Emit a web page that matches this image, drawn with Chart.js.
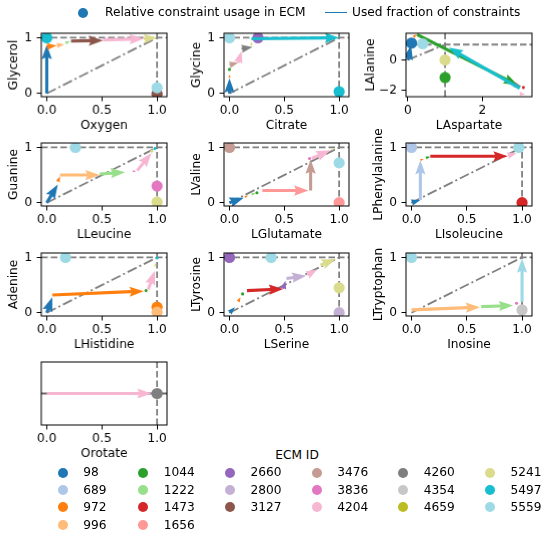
<!DOCTYPE html>
<html>
<head>
<meta charset="utf-8">
<script src="https://cdn.jsdelivr.net/npm/chart.js@4.4.0/dist/chart.umd.min.js"></script>
<style>
  html, body { margin: 0; padding: 0; background: #fff; }
  #fig { position: relative; width: 550px; height: 539px; overflow: hidden; font-family: "DejaVu Sans", sans-serif; font-size: 12.2px; color: #000; }
  #fig canvas { position: absolute; }
  .txt { position: absolute; white-space: nowrap; line-height: 15px; }
  .dot { position: absolute; width: 10px; height: 10px; border-radius: 50%; }
</style>
</head>
<body>
<div id="fig"></div>
<script>
// ---------------- DATA ----------------
const ecmIds = [98, 689, 972, 996, 1044, 1222, 1473, 1656, 2660, 2800, 3127, 3476, 3836, 4204, 4260, 4354, 4659, 5241, 5497, 5559];
const ecmColors = ['#1f77b4','#aec7e8','#ff7f0e','#ffbb78','#2ca02c','#98df8a','#d62728','#ff9896','#9467bd','#c5b0d5','#8c564b','#c49c94','#e377c2','#f7b6d2','#7f7f7f','#c7c7c7','#bcbd22','#dbdb8d','#17becf','#9edae5'];

const panelXLabels = ['Oxygen','Citrate','LAspartate','LLeucine','LGlutamate','LIsoleucine','LHistidine','LSerine','Inosine','Orotate'];
const panelYLabels = ['Glycerol','Glycine','LAlanine','Guanine','LValine','LPhenylalanine','Adenine','LTyrosine','LTryptophan',''];

const unitTickValues = [0, 0.5, 1];
const unitTickLabels = ['0.0', '0.5', '1.0'];
const binaryTickValues = [0, 1];
const binaryTickLabels = ['0', '1'];
const aspartateTickValues = [0, 2];
const aspartateTickLabels = ['0', '2'];
const alanineTickValues = [-2, 0];
const alanineTickLabels = ['\u22122', '0'];

// arrows: [ECM id, x0, y0, x1, y1]   dots: [ECM id, x, y]
const glycerolArrows = [[98,0,0,0,0.87],[972,0,0.84,0.09,0.86],[996,0.09,0.86,0.16,0.88],[1222,0.17,0.9,0.21,0.94],[3127,0.22,0.94,0.51,0.95],[4204,0.51,0.96,0.88,0.98],[5241,0.88,0.98,1,1]];
const glycerolDots = [[3127,1,-0.01],[5497,0,1],[5559,1,0.1]];

const glycineArrows = [[98,0,0,0,0.27],[972,0,0.28,0,0.34],[1044,0,0.43,0,0.43],[3476,0,0.51,0.08,0.55],[4204,0.08,0.55,0.11,0.76],[4260,0.11,0.8,0.21,0.83],[5241,0.2,0.86,0.2,0.93],[5497,0.2,0.98,1,1]];
const glycineDots = [[2660,0.26,1],[5497,1,0.03],[5559,0,1]];

const alanineArrows = [[98,0,0,0.09,0.95],[972,0.15,1.5,0.25,1.65],[1044,0.25,1.65,2.95,-1.65],[1473,3.1,-1.8,3.15,-1.95],[4204,3.0,-2.2,3.15,-2.25],[4260,2.85,-1.6,3.05,-1.75],[5497,3.0,-1.85,1.1,0.8]];
const alanineDots = [[98,0.1,1.1],[1044,1,-1.15],[5241,1,0],[5559,0.4,1.05]];

const guanineArrows = [[98,0,0,0.1,0.33],[972,0.1,0.38,0.12,0.48],[996,0.12,0.5,0.48,0.5],[1222,0.48,0.52,0.71,0.55],[3836,0.78,0.57,0.81,0.57],[4204,0.82,0.58,0.95,0.9],[5241,0.95,0.93,0.97,0.96],[5497,0.98,0.98,1,1]];
const guanineDots = [[3836,1,0.3],[5241,1,0.01],[5559,0.26,1]];

const valineArrows = [[98,0,0,0.13,0.09],[972,0.14,0.1,0.17,0.13],[1222,0.2,0.15,0.24,0.17],[1044,0.25,0.18,0.27,0.2],[1656,0.3,0.22,0.72,0.22],[3476,0.74,0.22,0.74,0.78],[3836,0.73,0.8,0.74,0.81],[4204,0.75,0.8,0.92,0.95],[5241,0.93,0.96,0.96,0.98]];
const valineDots = [[1656,1,0],[3476,0,1],[5559,1,0.72]];

const phenylalanineArrows = [[98,0,0,0.08,0.05],[689,0.08,0.05,0.08,0.77],[972,0.08,0.77,0.11,0.79],[1044,0.13,0.81,0.17,0.83],[1473,0.17,0.84,0.87,0.84],[4204,0.87,0.85,0.95,0.9]];
const phenylalanineDots = [[689,0,1],[1473,1,0],[5559,0.97,1]];

const adenineArrows = [[98,0,0,0.05,0.28],[972,0.05,0.32,0.88,0.39],[1044,0.9,0.4,0.91,0.4],[4204,0.92,0.42,0.98,0.76],[5241,0.98,0.84,0.99,0.9],[5497,1,0.99,1,1]];
const adenineDots = [[972,1,0.1],[996,1,0.01],[5559,0.17,1]];

const tyrosineArrows = [[98,0,0,0.05,0.1],[972,0.08,0.2,0.1,0.28],[1044,0.12,0.34,0.13,0.35],[1473,0.16,0.4,0.49,0.43],[2660,0.49,0.43,0.51,0.58],[2800,0.52,0.62,0.7,0.67],[4204,0.71,0.68,0.8,0.78],[5241,0.83,0.86,0.97,0.97]];
const tyrosineDots = [[2660,0,1],[2800,1,0],[5241,1,0.45],[5559,0.38,1]];

const tryptophanArrows = [[996,0,0.05,0.62,0.1],[1222,0.63,0.11,0.92,0.13],[3836,0.95,0.17,0.96,0.18],[5559,1,0.2,1,0.98]];
const tryptophanDots = [[4354,1,0.05],[5559,0,1]];

const orotateArrows = [[4204,0,0,0.95,0]];
const orotateDots = [[4260,1,0]];

// ---------------- LAYOUT / STYLE ----------------
const FONT = { family: 'DejaVu Sans', size: 12.2 };
const colLeft = [41.2, 223.8, 406.2];
const colRight = [166.6, 349.2, 532.3];
const rowTop = [33.3, 142.5, 252.5, 361.7];
const plotH = 63.5;
const YW = 45, XH = 38, PT = 22, PR = 8;
const GREY = '#808080';

const panels = [
  { r:0, c:0, arrows: glycerolArrows, dots: glycerolDots },
  { r:0, c:1, arrows: glycineArrows, dots: glycineDots },
  { r:0, c:2, arrows: alanineArrows, dots: alanineDots, xr:[-0.048,3.33], yr:[-2.40,1.74], xt:[aspartateTickValues,aspartateTickLabels], yt:[alanineTickValues,alanineTickLabels], ytPad:2.2 },
  { r:1, c:0, arrows: guanineArrows, dots: guanineDots },
  { r:1, c:1, arrows: valineArrows, dots: valineDots },
  { r:1, c:2, arrows: phenylalanineArrows, dots: phenylalanineDots },
  { r:2, c:0, arrows: adenineArrows, dots: adenineDots },
  { r:2, c:1, arrows: tyrosineArrows, dots: tyrosineDots },
  { r:2, c:2, arrows: tryptophanArrows, dots: tryptophanDots },
  { r:3, c:0, arrows: orotateArrows, dots: orotateDots, yr:[-0.055,0.055], yt:null, single:true }
];

function drawArrow(ctx, px0, py0, px1, py1) {
  const W = 3.1, HL = 4.6 * W, HW = 3.3 * W, HA = 4.1 * W;
  const dx = px1 - px0, dy = py1 - py0, L = Math.hypot(dx, dy);
  if (L < W) { ctx.beginPath(); ctx.arc(px0, py0, W / 2, 0, 2 * Math.PI); ctx.fill(); return; }
  const s = L < HL ? L / HL : 1;
  const w = W * s, hl = HL * s, hw = HW * s, ha = HA * s;
  const ux = dx / L, uy = dy / L, vx = -uy, vy = ux;
  const pts = [[0,-w/2],[L-ha,-w/2],[L-hl,-hw/2],[L,0],[L-hl,hw/2],[L-ha,w/2],[0,w/2]];
  ctx.beginPath();
  pts.forEach(([a, b], i) => {
    const X = px0 + ux * a + vx * b, Y = py0 + uy * a + vy * b;
    if (i) ctx.lineTo(X, Y); else ctx.moveTo(X, Y);
  });
  ctx.closePath();
  ctx.fill();
}

const arrowPlugin = {
  id: 'ecmArrows',
  afterDatasetDraw(chart, args) {
    const ds = chart.data.datasets[args.index];
    if (!ds.ecmArrows || !ds.ecmArrows.length) return;
    const { ctx, chartArea: a } = chart;
    const xs = chart.scales.x, ys = chart.scales.y;
    ctx.save();
    ctx.beginPath(); ctx.rect(a.left, a.top, a.right - a.left, a.bottom - a.top); ctx.clip();
    ctx.fillStyle = ds.ecmColor;
    ds.ecmArrows.forEach(([id, x0, y0, x1, y1]) => {
      drawArrow(ctx, xs.getPixelForValue(x0), ys.getPixelForValue(y0), xs.getPixelForValue(x1), ys.getPixelForValue(y1));
    });
    ctx.restore();
  }
};

const framePlugin = {
  id: 'frame',
  afterDraw(chart) {
    const { ctx, chartArea: a } = chart;
    ctx.save();
    ctx.strokeStyle = '#000'; ctx.lineWidth = 1;
    ctx.strokeRect(a.left, a.top, a.right - a.left, a.bottom - a.top);
    ctx.restore();
  }
};

const fig = document.getElementById('fig');

panels.forEach((p, i) => {
  const xr = p.xr || [-0.05, 1.09];
  const yr = p.yr || [-0.06, 1.08];
  const xt = p.xt || [unitTickValues, unitTickLabels];
  const yt = p.yt === undefined ? [binaryTickValues, binaryTickLabels] : p.yt;
  const left = colLeft[p.c] - YW, top = rowTop[p.r] - PT;
  const w = YW + (colRight[p.c] - colLeft[p.c]) + PR;
  const h = PT + plotH + XH;
  const cv = document.createElement('canvas');
  cv.style.left = left + 'px'; cv.style.top = top + 'px';
  cv.style.width = w + 'px'; cv.style.height = h + 'px';
  cv.width = w; cv.height = h;
  fig.appendChild(cv);

  const datasets = [];
  const refLine = (data, dash) => ({ type: 'scatter', data, showLine: true, borderColor: GREY, borderWidth: 1.8, borderDash: dash, pointRadius: 0, pointHoverRadius: 0, order: 1000, clip: 0 });
  datasets.push(refLine([{x: 1, y: yr[0]}, {x: 1, y: yr[1]}], [6.5, 3]));
  if (p.single) {
    const d = refLine([{x: xr[0], y: 0}, {x: xr[1], y: 0}], []);
    d.borderColor = '#6a6a6a'; d.borderWidth = 2;
    datasets.push(d);
  } else {
    datasets.push(refLine([{x: xr[0], y: 1}, {x: xr[1], y: 1}], [6.5, 3]));
    datasets.push(refLine([{x: 0, y: 0}, {x: 1, y: 1}], [10, 3, 2, 3]));
  }
  ecmIds.forEach((id, k) => {
    const dots = p.dots.filter(d => d[0] === id);
    const arrows = p.arrows.filter(a => a[0] === id);
    if (!dots.length && !arrows.length) return;
    datasets.push({
      label: String(id),
      data: dots.map(d => ({ x: d[1], y: d[2] })),
      backgroundColor: ecmColors[k], borderWidth: 0,
      pointRadius: 5.6, pointHoverRadius: 5.6,
      order: 500 - k, ecmArrows: arrows, ecmColor: ecmColors[k]
    });
  });

  const tickGrid = { display: true, drawOnChartArea: false, drawTicks: true, tickLength: 4.5, color: '#000', lineWidth: 1 };
  new Chart(cv, {
    type: 'scatter',
    data: { datasets },
    options: {
      responsive: false, animation: false,
      layout: { padding: { top: PT, right: PR, left: 0, bottom: 0 } },
      plugins: { legend: { display: false }, tooltip: { enabled: false } },
      events: [],
      scales: {
        x: {
          type: 'linear', min: xr[0], max: xr[1],
          afterBuildTicks: s => { s.ticks = xt[0].map(v => ({ value: v })); },
          afterFit: s => { s.height = XH; },
          ticks: { callback: v => xt[1][xt[0].indexOf(v)], color: '#000', font: FONT, padding: 2, autoSkip: false, maxRotation: 0, minRotation: 0 },
          grid: tickGrid,
          border: { display: false },
          title: { display: true, text: panelXLabels[i], color: '#000', font: FONT, padding: { top: 0, bottom: 2.2 } }
        },
        y: {
          type: 'linear', min: yr[0], max: yr[1],
          afterBuildTicks: s => { s.ticks = yt ? yt[0].map(v => ({ value: v })) : []; },
          afterFit: s => { s.width = YW; },
          ticks: { display: !!yt, callback: v => yt ? yt[1][yt[0].indexOf(v)] : '', color: '#000', font: FONT, padding: 4.5, autoSkip: false },
          grid: yt ? tickGrid : { display: false },
          border: { display: false },
          title: { display: !!panelYLabels[i], text: panelYLabels[i], color: '#000', font: FONT, padding: { top: p.ytPad !== undefined ? p.ytPad : 10.7, bottom: 0 } }
        }
      }
    },
    plugins: [arrowPlugin, framePlugin]
  });
});

// ---------------- LEGENDS (HTML text) ----------------
function addDot(cx, cy, color) {
  const d = document.createElement('div');
  d.className = 'dot'; d.style.left = (cx - 5) + 'px'; d.style.top = (cy - 5) + 'px'; d.style.background = color;
  fig.appendChild(d);
}
function addText(x, cy, text, center) {
  const t = document.createElement('div');
  t.className = 'txt'; t.textContent = text; t.style.top = (cy - 7.5) + 'px';
  t.style.left = x + 'px';
  if (center) t.style.transform = 'translateX(-50%)';
  fig.appendChild(t);
}
// top legend
addDot(83, 12.5, ecmColors[0]);
addText(105, 12.5, 'Relative constraint usage in ECM');
const ln = document.createElement('div');
ln.style.cssText = 'position:absolute;left:325px;top:11.8px;width:22px;height:1.5px;background:' + ecmColors[0];
fig.appendChild(ln);
addText(352, 12.5, 'Used fraction of constraints');

// bottom ECM legend
addText(297, 455, 'ECM ID', true);
const legMarkerX = [62.7, 143.3, 230, 316.7, 403.3, 490];
const legRowY = [472.7, 490, 507.3, 525];
const perCol = [4, 4, 3, 3, 3, 3];
let idx = 0;
perCol.forEach((n, c) => {
  for (let r = 0; r < n; r++) {
    addDot(legMarkerX[c], legRowY[r], ecmColors[idx]);
    addText(legMarkerX[c] + 20.5, legRowY[r], String(ecmIds[idx]));
    idx++;
  }
});
</script>
</body>
</html>
